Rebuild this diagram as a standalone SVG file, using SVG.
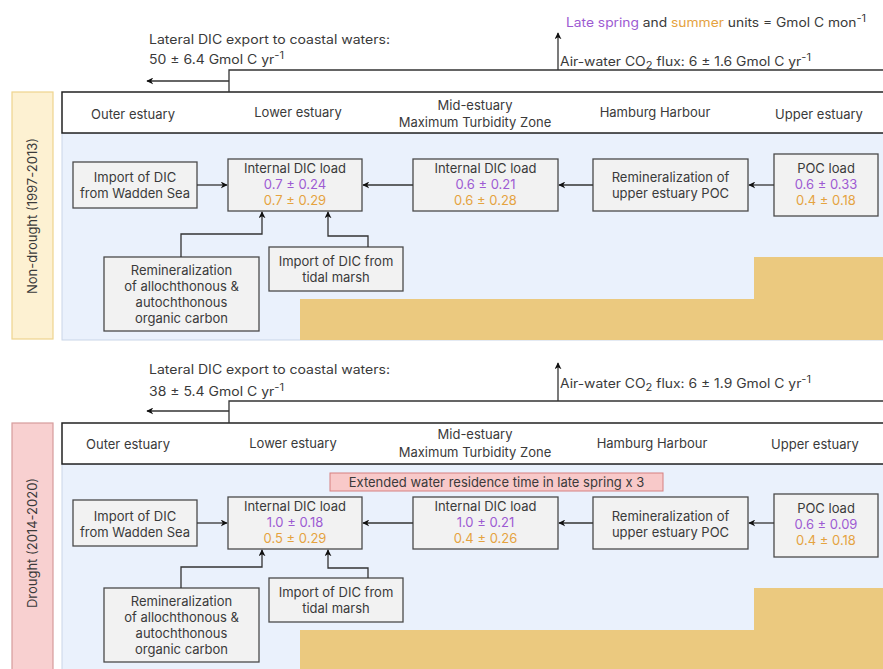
<svg xmlns="http://www.w3.org/2000/svg" width="883" height="669" viewBox="0 0 883 669">
<defs>
<style>
text{font-family:Inter,"Open Sans","Liberation Sans",sans-serif;fill:#3a3a3a;font-size:13px}
.c{text-anchor:middle}
.p{fill:#9d5bd2}
.o{fill:#e5a33f}
.node{fill:#f2f2f2;stroke:#4a4a4a;stroke-width:1.3}
.hdr{fill:#ffffff;stroke:#222;stroke-width:1.5}
.panel{fill:#eaf1fc;stroke:#c9d5e8;stroke-width:1}
.sand{fill:#ebc97f}
.ln{fill:none;stroke:#333;stroke-width:1.3}
.top{font-size:12.5px}
</style>
<marker id="ah" viewBox="0 0 10 10" refX="9" refY="5" markerWidth="7" markerHeight="7" orient="auto-start-reverse" markerUnits="userSpaceOnUse">
<path d="M0,0 L10,5 L0,10 L3,5 z" fill="#111"/>
</marker>
</defs>
<rect width="883" height="669" fill="#ffffff"/>

<!-- legend -->
<g id="legend">
<text x="566" y="27" class="top" textLength="300" lengthAdjust="spacingAndGlyphs"><tspan class="p">Late spring</tspan> and <tspan class="o">summer</tspan> units = Gmol C mon<tspan dy="-5" font-size="10">-1</tspan></text>
</g>

<!-- ============ NON-DROUGHT SECTION ============ -->
<g id="side-nondrought">
<rect x="12" y="92" width="41" height="247" fill="#fdf1d2" stroke="#efd48e" stroke-width="1.2"/>
<text class="c" transform="translate(37,216) rotate(-90)">Non-drought (1997-2013)</text>
</g>
<g id="panel-nondrought">
<rect class="panel" x="62" y="133" width="840" height="207"/>
<polygon class="sand" points="300,299 754,299 754,257 890,257 890,340 300,340"/>
</g>
<g id="header-nondrought">
<rect class="hdr" x="62" y="92" width="840" height="41"/>
<text class="c" x="133" y="118.5">Outer estuary</text>
<text class="c" x="298" y="117">Lower estuary</text>
<text class="c" x="475" y="110">Mid-estuary</text>
<text class="c" x="475" y="126.5">Maximum Turbidity Zone</text>
<text class="c" x="655" y="116.5">Hamburg Harbour</text>
<text class="c" x="819" y="118.5">Upper estuary</text>
</g>
<g id="fluxes-nondrought">
<text x="149" y="44" class="top" textLength="241" lengthAdjust="spacingAndGlyphs">Lateral DIC export to coastal waters:</text>
<text x="149" y="64" class="top" textLength="135" lengthAdjust="spacingAndGlyphs">50 ± 6.4 Gmol C yr<tspan dy="-5" font-size="10">-1</tspan></text>
<text x="560" y="66" class="top" textLength="251" lengthAdjust="spacingAndGlyphs">Air-water CO<tspan dy="3" font-size="10">2</tspan><tspan dy="-3"> flux: 6 ± 1.6 Gmol C yr</tspan><tspan dy="-5" font-size="10">-1</tspan></text>
</g>

<g id="n1-wadden"><rect class="node" x="73" y="162" width="124" height="46"/>
<text class="c" x="135" y="181.5">Import of DIC</text><text class="c" x="135" y="197.5">from Wadden Sea</text></g>
<g id="n1-lower"><rect class="node" x="228" y="159" width="134" height="52"/>
<text class="c" x="295" y="172.5">Internal DIC load</text><text class="c p" x="295" y="188.5">0.7 ± 0.24</text><text class="c o" x="295" y="204.5">0.7 ± 0.29</text></g>
<g id="n1-mid"><rect class="node" x="413" y="159" width="145" height="52"/>
<text class="c" x="485.5" y="172.5">Internal DIC load</text><text class="c p" x="485.5" y="188.5">0.6 ± 0.21</text><text class="c o" x="485.5" y="204.5">0.6 ± 0.28</text></g>
<g id="n1-reminup"><rect class="node" x="593" y="159" width="155" height="52"/>
<text class="c" x="670.5" y="181.5">Remineralization of</text><text class="c" x="670.5" y="197.5">upper estuary POC</text></g>
<g id="n1-poc"><rect class="node" x="774" y="154" width="104" height="62"/>
<text class="c" x="826" y="172.5">POC load</text><text class="c p" x="826" y="188.5">0.6 ± 0.33</text><text class="c o" x="826" y="204.5">0.4 ± 0.18</text></g>
<g id="n1-reminall"><rect class="node" x="104" y="257" width="155" height="74"/>
<text class="c" x="181.5" y="274.5">Remineralization</text><text class="c" x="181.5" y="290.5">of allochthonous &amp;</text><text class="c" x="181.5" y="306.5">autochthonous</text><text class="c" x="181.5" y="322.5">organic carbon</text></g>
<g id="n1-tidal"><rect class="node" x="269" y="247" width="134" height="44"/>
<text class="c" x="336" y="265.5">Import of DIC from</text><text class="c" x="336" y="281.5">tidal marsh</text></g>

<!-- ============ DROUGHT SECTION ============ -->
<g id="side-drought">
<rect x="12" y="423" width="41" height="260" fill="#f8d0d0" stroke="#d69c9c" stroke-width="1.2"/>
<text class="c" transform="translate(37,543) rotate(-90)">Drought (2014-2020)</text>
</g>
<g id="panel-drought">
<rect class="panel" x="62" y="464" width="840" height="220"/>
<polygon class="sand" points="300,630 754,630 754,588 890,588 890,680 300,680"/>
</g>
<g id="header-drought">
<rect class="hdr" x="62" y="423" width="840" height="41"/>
<text class="c" x="128" y="448.5">Outer estuary</text>
<text class="c" x="293" y="447.5">Lower estuary</text>
<text class="c" x="475" y="439">Mid-estuary</text>
<text class="c" x="475" y="456.5">Maximum Turbidity Zone</text>
<text class="c" x="652" y="447.5">Hamburg Harbour</text>
<text class="c" x="815" y="448.5">Upper estuary</text>
</g>
<g id="fluxes-drought">
<text x="149" y="374" class="top" textLength="241" lengthAdjust="spacingAndGlyphs">Lateral DIC export to coastal waters:</text>
<text x="149" y="396" class="top" textLength="135" lengthAdjust="spacingAndGlyphs">38 ± 5.4 Gmol C yr<tspan dy="-5" font-size="10">-1</tspan></text>
<text x="560" y="388" class="top" textLength="251" lengthAdjust="spacingAndGlyphs">Air-water CO<tspan dy="3" font-size="10">2</tspan><tspan dy="-3"> flux: 6 ± 1.9 Gmol C yr</tspan><tspan dy="-5" font-size="10">-1</tspan></text>
</g>
<g id="n2-residence"><rect x="330" y="473" width="333" height="18" fill="#f8c9c9" stroke="#d58080" stroke-width="1"/>
<text class="c" x="496.5" y="486.5">Extended water residence time in late spring x 3</text></g>

<g id="n2-wadden"><rect class="node" x="73" y="500" width="124" height="46"/>
<text class="c" x="135" y="520.5">Import of DIC</text><text class="c" x="135" y="536.5">from Wadden Sea</text></g>
<g id="n2-lower"><rect class="node" x="228" y="497" width="134" height="52"/>
<text class="c" x="295" y="511">Internal DIC load</text><text class="c p" x="295" y="527">1.0 ± 0.18</text><text class="c o" x="295" y="543">0.5 ± 0.29</text></g>
<g id="n2-mid"><rect class="node" x="413" y="497" width="145" height="52"/>
<text class="c" x="485.5" y="511">Internal DIC load</text><text class="c p" x="485.5" y="527">1.0 ± 0.21</text><text class="c o" x="485.5" y="543">0.4 ± 0.26</text></g>
<g id="n2-reminup"><rect class="node" x="593" y="497" width="155" height="52"/>
<text class="c" x="670.5" y="520.5">Remineralization of</text><text class="c" x="670.5" y="536.5">upper estuary POC</text></g>
<g id="n2-poc"><rect class="node" x="774" y="494" width="104" height="63"/>
<text class="c" x="826" y="513">POC load</text><text class="c p" x="826" y="529">0.6 ± 0.09</text><text class="c o" x="826" y="545">0.4 ± 0.18</text></g>
<g id="n2-reminall"><rect class="node" x="104" y="588" width="155" height="74"/>
<text class="c" x="181.5" y="605.5">Remineralization</text><text class="c" x="181.5" y="621.5">of allochthonous &amp;</text><text class="c" x="181.5" y="637.5">autochthonous</text><text class="c" x="181.5" y="653.5">organic carbon</text></g>
<g id="n2-tidal"><rect class="node" x="269" y="578" width="134" height="44"/>
<text class="c" x="336" y="596.5">Import of DIC from</text><text class="c" x="336" y="612.5">tidal marsh</text></g>

<!-- ============ CONNECTORS ============ -->
<g id="connectors">
<!-- non-drought -->
<polyline class="ln" points="883,70 229,70 229,92"/>
<line class="ln" x1="229" y1="81" x2="147" y2="81" marker-end="url(#ah)"/>
<line class="ln" x1="558" y1="70" x2="558" y2="33" marker-end="url(#ah)"/>
<line class="ln" x1="197" y1="185" x2="227" y2="185" marker-end="url(#ah)"/>
<line class="ln" x1="413" y1="185" x2="363" y2="185" marker-end="url(#ah)"/>
<line class="ln" x1="593" y1="185" x2="559" y2="185" marker-end="url(#ah)"/>
<line class="ln" x1="774" y1="185" x2="749" y2="185" marker-end="url(#ah)"/>
<polyline class="ln" points="181,257 181,234 262,234 262,212" marker-end="url(#ah)"/>
<polyline class="ln" points="368,247 368,236 328,236 328,212" marker-end="url(#ah)"/>
<!-- drought -->
<polyline class="ln" points="883,401 229,401 229,423"/>
<line class="ln" x1="229" y1="411" x2="147" y2="411" marker-end="url(#ah)"/>
<line class="ln" x1="558" y1="401" x2="558" y2="363" marker-end="url(#ah)"/>
<line class="ln" x1="197" y1="523" x2="227" y2="523" marker-end="url(#ah)"/>
<line class="ln" x1="413" y1="523" x2="363" y2="523" marker-end="url(#ah)"/>
<line class="ln" x1="593" y1="523" x2="559" y2="523" marker-end="url(#ah)"/>
<line class="ln" x1="774" y1="523" x2="749" y2="523" marker-end="url(#ah)"/>
<polyline class="ln" points="181,588 181,567 262,567 262,550" marker-end="url(#ah)"/>
<polyline class="ln" points="368,578 368,568 328,568 328,550" marker-end="url(#ah)"/>
</g>
</svg>
